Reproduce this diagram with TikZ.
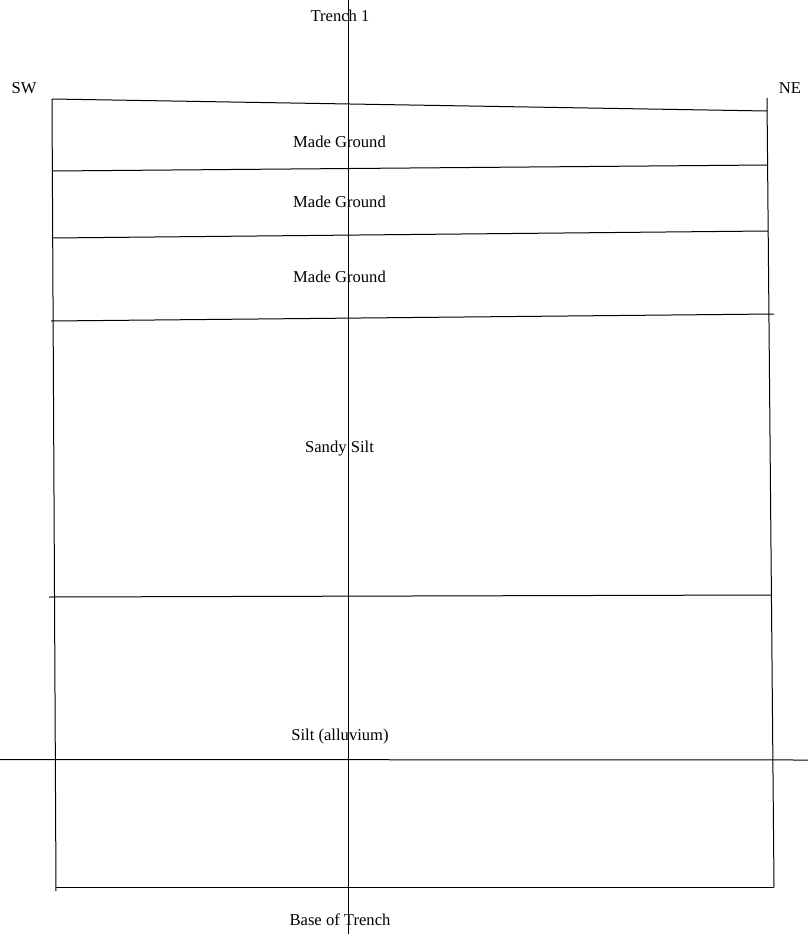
\documentclass[tikz,border=0pt]{standalone}
\usepackage{fontspec}
\setmainfont{Liberation Serif}
\begin{document}
\begin{tikzpicture}[x=1pt,y=-1pt,
  lbl/.style={font=\fontsize{16.6}{18}\selectfont, inner sep=0pt, anchor=base},
  edge/.style={line width=1pt, black}]
\useasboundingbox (0,0) rectangle (808,934);
% outline corners
\coordinate (tl) at (52,99);
\coordinate (tr) at (767,111);
\coordinate (bl) at (56,891);
\coordinate (br) at (774,887);
\coordinate (rtop) at (767,98);
\coordinate (blstart) at (56,887);
% verticals
\draw[edge] (tl) -- (bl);
\draw[edge] (rtop) -- (br);
\coordinate (ct) at (348,0);
\coordinate (cb) at (348,934);
\draw[edge] (ct) -- (cb);
% horizontals
\draw[edge] (tl) -- (tr);
\coordinate (l2a) at (52,171); \coordinate (l2b) at (768,165);
\draw[edge] (l2a) -- (l2b);
\coordinate (l3a) at (52,238); \coordinate (l3b) at (768,231);
\draw[edge] (l3a) -- (l3b);
\coordinate (l4a) at (51,321); \coordinate (l4b) at (774,314);
\draw[edge] (l4a) -- (l4b);
\coordinate (l5a) at (49,597); \coordinate (l5b) at (771,595);
\draw[edge] (l5a) -- (l5b);
\coordinate (l6a) at (0,759.5); \coordinate (l6b) at (808,760);
\draw[edge] (l6a) -- (l6b);
\draw[edge] (blstart) -- (br);
% labels
\node[lbl] (t1) at (340,22) {Trench 1};
\node[lbl] (sw) at (24,93) {SW};
\node[lbl] (ne) at (790,93) {NE};
\node[lbl] (mg1) at (339.5,147) {Made Ground};
\node[lbl] (mg2) at (339.5,207) {Made Ground};
\node[lbl] (mg3) at (339.5,282) {Made Ground};
\node[lbl] (ss) at (339.5,452) {Sandy Silt};
\node[lbl] (sa) at (340,740) {Silt (alluvium)};
\node[lbl] (bt) at (340,925) {Base of Trench};
\end{tikzpicture}
\end{document}
